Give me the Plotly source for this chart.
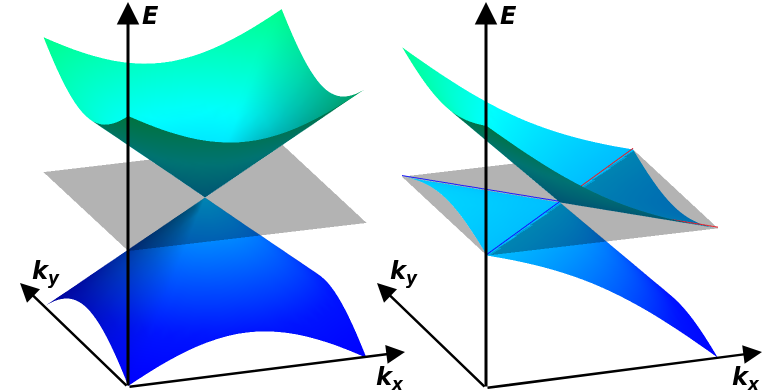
import numpy as np
import plotly.graph_objects as go

KX = [-1.0, -0.917, -0.833, -0.75, -0.667, -0.583, -0.5, -0.417, -0.333, -0.25, -0.167, -0.083, 0.0,
      0.083, 0.167, 0.25, 0.333, 0.417, 0.5, 0.583, 0.667, 0.75, 0.833, 0.917, 1.0]
KY = list(KX)

# Cone height read over one quadrant (|ky| rows, |kx| columns)
CONE_QUADRANT = [
    [0.000, 0.083, 0.167, 0.250, 0.333, 0.417, 0.500, 0.583, 0.667, 0.750, 0.833, 0.917, 1.000],
    [0.083, 0.118, 0.186, 0.264, 0.344, 0.425, 0.507, 0.589, 0.672, 0.755, 0.837, 0.920, 1.003],
    [0.167, 0.186, 0.236, 0.300, 0.373, 0.449, 0.527, 0.607, 0.687, 0.768, 0.850, 0.932, 1.014],
    [0.250, 0.264, 0.300, 0.354, 0.417, 0.486, 0.559, 0.635, 0.712, 0.791, 0.870, 0.950, 1.031],
    [0.333, 0.344, 0.373, 0.417, 0.471, 0.534, 0.601, 0.672, 0.745, 0.821, 0.898, 0.975, 1.054],
    [0.417, 0.425, 0.449, 0.486, 0.534, 0.589, 0.651, 0.717, 0.786, 0.858, 0.932, 1.007, 1.083],
    [0.500, 0.507, 0.527, 0.559, 0.601, 0.651, 0.707, 0.768, 0.833, 0.901, 0.972, 1.044, 1.118],
    [0.583, 0.589, 0.607, 0.635, 0.672, 0.717, 0.768, 0.825, 0.886, 0.950, 1.017, 1.087, 1.158],
    [0.667, 0.672, 0.687, 0.712, 0.745, 0.786, 0.833, 0.886, 0.943, 1.003, 1.067, 1.133, 1.202],
    [0.750, 0.755, 0.768, 0.791, 0.821, 0.858, 0.901, 0.950, 1.003, 1.061, 1.121, 1.184, 1.250],
    [0.833, 0.837, 0.850, 0.870, 0.898, 0.932, 0.972, 1.017, 1.067, 1.121, 1.179, 1.239, 1.302],
    [0.917, 0.920, 0.932, 0.950, 0.975, 1.007, 1.044, 1.087, 1.133, 1.184, 1.239, 1.296, 1.357],
    [1.000, 1.003, 1.014, 1.031, 1.054, 1.083, 1.118, 1.158, 1.202, 1.250, 1.302, 1.357, 1.414],
]
# Tilt of the type-II cone along kx
TILT_E = [1.414, 1.296, 1.179, 1.061, 0.943, 0.825, 0.707, 0.589, 0.471, 0.354, 0.236, 0.118, 0.0,
          -0.118, -0.236, -0.354, -0.471, -0.589, -0.707, -0.825, -0.943, -1.061, -1.179, -1.296, -1.414]
TILT_SCALE = 0.48

PLANE_K = [-1.0, 1.0]
PLANE_E = [[0.0, 0.0], [0.0, 0.0]]

RED_LINES = [([0.0, 1.0], [0.0, -1.0]), ([0.0, 1.0], [0.0, 1.0])]
BLUE_LINES = [([0.0, -1.0], [0.0, 1.0]), ([0.0, -1.0], [0.0, -1.0])]
LINE_E = [0.012, 0.012]

# Colour of the bands against energy
COLOR_E = [-1.414, -1.0, -0.707, 0.0, 0.622, 1.414]
COLOR_R = [0, 0, 0, 0, 0, 0]
COLOR_G = [0, 20, 70, 190, 255, 255]
COLOR_B = [255, 255, 255, 255, 255, 140]

EYE = np.array([-0.3166, -0.889, 0.331])
LIGHT_DIR = np.array([0.45, -0.45, 0.77])
AMBIENT = 0.45
DIFFUSE = 0.9
Z_ASPECT = 0.8  # scene height per unit of E, relative to one unit of k

MID = len(CONE_QUADRANT) - 1
CONE_E = np.array([[CONE_QUADRANT[abs(j - MID)][abs(i - MID)] for i in range(len(KX))] for j in range(len(KY))])
TILT = np.array(TILT_E)

cone_up = CONE_E
cone_dn = -CONE_E
tilt_up = TILT_SCALE * (TILT + CONE_E)
tilt_dn = TILT_SCALE * (TILT - CONE_E)


def band(Z, scene):
    """Triangles with their own corner colours, so each side of a sheet is shaded by itself."""
    k_x = np.array(KX)
    k_y = np.array(KY)
    dz_dy, dz_dx = np.gradient(Z, k_y, k_x)
    xs, ys, zs, cols = [], [], [], []
    n = len(k_x)
    for j in range(n - 1):
        for i in range(n - 1):
            main = (i - MID + 0.5) * (j - MID + 0.5) > 0
            tris = ([(i, j), (i + 1, j), (i + 1, j + 1)], [(i, j), (i + 1, j + 1), (i, j + 1)]) if main else \
                   ([(i, j), (i + 1, j), (i, j + 1)], [(i + 1, j), (i + 1, j + 1), (i, j + 1)])
            for tri in tris:
                p = np.array([[k_x[a], k_y[b], Z[b, a] * Z_ASPECT] for a, b in tri])
                fn = np.cross(p[1] - p[0], p[2] - p[0])
                side = 1.0 if fn @ EYE >= 0 else -1.0
                for a, b in tri:
                    nrm = np.array([-dz_dx[b, a] * Z_ASPECT, -dz_dy[b, a] * Z_ASPECT, 1.0])
                    nrm = nrm / np.linalg.norm(nrm)
                    if fn[2] * side < 0:
                        nrm = -nrm
                    shade = min(1.0, AMBIENT + DIFFUSE * max(nrm @ LIGHT_DIR, 0.0))
                    e = Z[b, a]
                    g = np.interp(e, COLOR_E, COLOR_G) * shade
                    bl = np.interp(e, COLOR_E, COLOR_B) * shade
                    r = np.interp(e, COLOR_E, COLOR_R) * shade
                    xs.append(k_x[a])
                    ys.append(k_y[b])
                    zs.append(e)
                    cols.append(f"rgb({r:.0f},{g:.0f},{bl:.0f})")
    m = len(xs) // 3
    return go.Mesh3d(x=xs, y=ys, z=zs, i=list(range(0, 3 * m, 3)), j=list(range(1, 3 * m, 3)),
                     k=list(range(2, 3 * m, 3)), vertexcolor=cols, scene=scene, hoverinfo="skip",
                     lighting=dict(ambient=1.0, diffuse=0.0, specular=0.0, roughness=1.0, fresnel=0.0))


def plane(scene):
    return go.Surface(x=PLANE_K, y=PLANE_K, z=PLANE_E, surfacecolor=PLANE_E,
                      colorscale=[[0, "rgb(0,0,0)"], [1, "rgb(0,0,0)"]],
                      showscale=False, opacity=0.3, scene=scene, hoverinfo="skip",
                      lighting=dict(ambient=1.0, diffuse=0.0, specular=0.0))


fig = go.Figure()
fig.add_trace(band(cone_dn, "scene"))
fig.add_trace(band(cone_up, "scene"))
fig.add_trace(plane("scene"))
fig.add_trace(band(tilt_dn, "scene2"))
fig.add_trace(band(tilt_up, "scene2"))
fig.add_trace(plane("scene2"))
for lines, col in ((RED_LINES, "rgb(230,30,40)"), (BLUE_LINES, "rgb(20,20,250)")):
    for xs_, ys_ in lines:
        fig.add_trace(go.Scatter3d(x=xs_, y=ys_, z=LINE_E, mode="lines", line=dict(color=col, width=2),
                                   scene="scene2", hoverinfo="skip", showlegend=False))

hidden = dict(visible=False, showgrid=False, zeroline=False, showticklabels=False, showspikes=False)
ZOOM = 2.0
ASPECT = 1.294


def scene_layout(domain_x, xasp, center_z):
    return dict(
        domain=dict(x=domain_x, y=[0, 1]),
        xaxis=dict(range=[-1, 1], **hidden), yaxis=dict(range=[-1, 1], **hidden),
        zaxis=dict(range=[-1.5, 1.5], **hidden),
        aspectmode="manual", aspectratio=dict(x=xasp * ASPECT, y=ASPECT, z=1.2 * ASPECT),
        bgcolor="rgba(0,0,0,0)",
        camera=dict(eye=dict(x=EYE[0] * ZOOM, y=EYE[1] * ZOOM, z=(EYE[2] * ZOOM + center_z)),
                    center=dict(x=0, y=0, z=center_z), up=dict(x=0, y=0, z=1),
                    projection=dict(type="orthographic")),
    )


W, H = 782, 391


def arrow(x0, y0, x1, y1, width):
    return dict(xref="paper", yref="paper", x=x1 / W, y=1 - y1 / H, axref="pixel", ayref="pixel",
                ax=x0 - x1, ay=y0 - y1, text="", showarrow=True, arrowhead=2, arrowsize=1.5,
                arrowwidth=width, arrowcolor="black")


def label(x, y, text, size=24):
    return dict(xref="paper", yref="paper", x=x / W, y=1 - y / H, text=text, showarrow=False,
                font=dict(family="DejaVu Sans", size=size, color="black"), xanchor="center", yanchor="middle")


ARROWS = [
    (128, 387, 128, 2, 3), (128, 387, 405, 352, 2.5), (128, 387, 20, 283, 2.5),
    (486, 388, 486, 2, 3), (486, 388, 762, 352, 2.5), (486, 388, 377, 283, 2.5),
]
LABELS = [
    (150, 16, "<b><i>E</i></b>"), (46, 272, "<b><i>k<sub>y</sub></i></b>"), (390, 378, "<b><i>k<sub>x</sub></i></b>"),
    (508, 16, "<b><i>E</i></b>"), (404, 272, "<b><i>k<sub>y</sub></i></b>"), (746, 378, "<b><i>k<sub>x</sub></i></b>"),
]

fig.update_layout(
    width=W, height=H, autosize=False, margin=dict(l=0, r=0, t=0, b=0),
    paper_bgcolor="white", showlegend=False,
    scene=scene_layout([20 / W, 390 / W], 1.0, 0.011),
    scene2=scene_layout([375 / W, 745 / W], 0.97, 0.038),
    annotations=[arrow(*a) for a in ARROWS] + [label(*l) for l in LABELS],
)

fig.write_html("out.html", post_script="document.body.style.margin='0';", config=dict(displayModeBar=False))
